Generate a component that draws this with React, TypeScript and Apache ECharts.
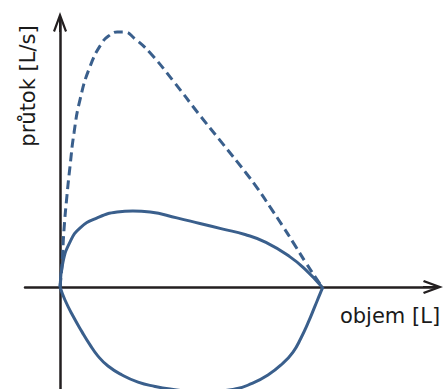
import React, { useEffect, useRef } from "react";
import * as echarts from "echarts";

// maximal (dashed) expiratory curve: volume [L], flow [L/s]
const maxVolume = [0, 0.038, 0.076, 0.134, 0.19, 0.267, 0.38, 0.57, 0.8, 0.954, 1.09, 1.221, 1.431, 1.718, 2.176, 2.634, 3.092, 3.55, 3.779, 4.008, 4.237, 4.466, 4.695, 4.885, 5.0];
const maxFlow = [0, 0.86, 2.24, 3.61, 4.71, 6.04, 7.33, 8.63, 9.57, 9.88, 10.0, 10.0, 9.73, 9.18, 8.04, 6.82, 5.65, 4.47, 3.84, 3.14, 2.43, 1.69, 0.94, 0.35, 0];

// tidal expiratory curve (solid, upper)
const expVolume = [0, 0.057, 0.19, 0.38, 0.71, 1.09, 1.39, 1.72, 2.23, 2.67, 3.11, 3.53, 3.93, 4.39, 4.69, 5.0];
const expFlow = [0, 0.98, 1.76, 2.31, 2.71, 2.94, 2.98, 2.94, 2.71, 2.49, 2.27, 2.06, 1.75, 1.18, 0.67, 0];

// inspiratory curve (solid, lower)
const insVolume = [0, 0.095, 0.248, 0.42, 0.573, 0.725, 0.916, 1.183, 1.489, 1.813, 2.099, 2.672, 3.34, 3.664, 3.969, 4.237, 4.447, 4.599, 4.733, 4.866, 4.962, 5.019];
const insFlow = [0, -0.51, -1.14, -1.76, -2.27, -2.71, -3.1, -3.45, -3.73, -3.9, -4.0, -4.12, -4.0, -3.78, -3.45, -3.02, -2.55, -2.0, -1.41, -0.75, -0.27, 0];

const xName = "objem [L]";
const yName = "průtok [L/s]";

const zip = (a: number[], b: number[]) => a.map((v, i) => [v, b[i]]);

const ARROW =
  "path://M7,0 L14,19 L12,20 L7,6.5 L2,20 L0,19 Z M6,4 L8,4 L8,20 L6,20 Z";

export default function App() {
  const ref = useRef<HTMLDivElement>(null);
  useEffect(() => {
    if (!ref.current) return;
    const chart = echarts.init(ref.current, null, { renderer: "svg" });
    const axisColor = "#231f20";
    const blue = "#3a5f8c";
    const axisLine = {
      onZero: true,
      symbol: ["none", ARROW],
      symbolSize: [14, 20],
      lineStyle: { color: axisColor, width: 2.5 },
    };
    const lineBase = {
      type: "line",
      smooth: 0.5,
      showSymbol: false,
      clip: true,
    };
    chart.setOption({
      animation: false,
      backgroundColor: "#ffffff",
      grid: { left: 25, right: 13, top: 22, bottom: 0, containLabel: false },
      xAxis: {
        type: "value",
        min: -0.668,
        max: 7.118,
        axisLine,
        axisTick: { show: false },
        axisLabel: { show: false },
        splitLine: { show: false },
      },
      yAxis: {
        type: "value",
        min: -4,
        max: 10.39,
        axisLine,
        axisTick: { show: false },
        axisLabel: { show: false },
        splitLine: { show: false },
      },
      graphic: [
        {
          type: "text",
          x: 390,
          y: 316,
          style: {
            text: xName,
            fontFamily: "DejaVu Sans",
            fontSize: 21,
            fill: "#1a1a1a",
            textAlign: "center",
            textVerticalAlign: "middle",
          },
        },
        {
          type: "text",
          x: 28,
          y: 86,
          rotation: Math.PI / 2,
          style: {
            text: yName,
            fontFamily: "DejaVu Sans",
            fontSize: 21,
            fill: "#1a1a1a",
            textAlign: "center",
            textVerticalAlign: "middle",
          },
        },
      ],
      series: [
        {
          ...lineBase,
          data: zip(maxVolume, maxFlow),
          lineStyle: { color: blue, width: 3, type: [9, 5] },
        },
        {
          ...lineBase,
          data: zip(expVolume, expFlow),
          lineStyle: { color: blue, width: 3 },
        },
        {
          ...lineBase,
          data: zip(insVolume, insFlow),
          lineStyle: { color: blue, width: 3 },
        },
      ],
    });
    return () => chart.dispose();
  }, []);
  return (
    <div
      ref={ref}
      style={{ position: "absolute", left: 0, top: 0, width: 446, height: 389 }}
    />
  );
}
